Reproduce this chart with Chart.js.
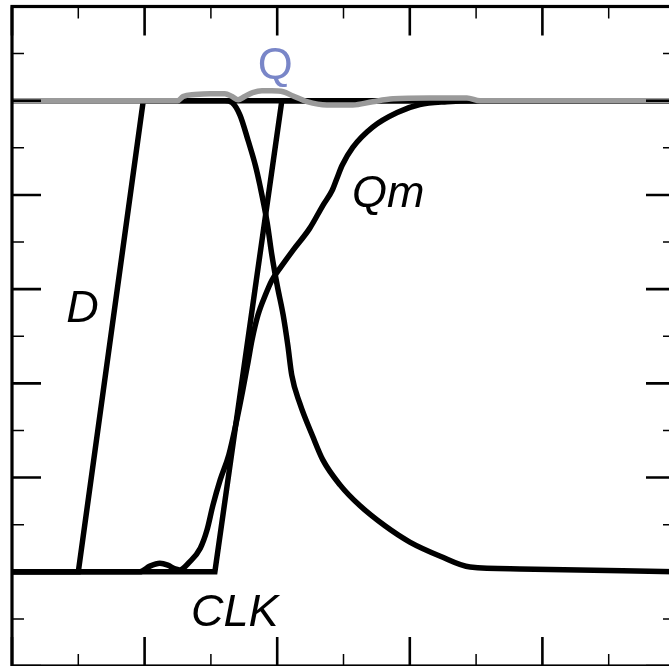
<!DOCTYPE html>
<html>
<head>
<meta charset="utf-8">
<script src="https://cdn.jsdelivr.net/npm/chart.js@4.4.1/dist/chart.umd.min.js"></script>
<style>
  html, body { margin: 0; padding: 0; background: #fff; overflow: hidden; }
  canvas { display: block; }
</style>
</head>
<body>
<canvas id="myChart" width="700" height="700"></canvas>
<script>
// time axis (arbitrary units) and node voltages (normalised)
const dTime = [0, 10, 19.8, 100];
const dVolt = [0, 0, 1, 1];

const clkTime = [0, 30.6, 40.7, 100];
const clkVolt = [0, 0, 1, 1];

const qmTime = [0, 19.3, 20.8, 22.3, 23.5, 24.6, 25.3, 26.8, 28.4, 29.4, 30.3, 31.4, 32.7, 33.9, 34.8, 35.6, 36.2, 37.1, 38.2, 39.2, 40.4, 42.4, 44.9, 46.9, 48.3, 49.0, 49.8, 51.4, 54.4, 58.1, 61.5, 65.6, 69.5, 100];
const qmVolt = [0, 0, 0.012, 0.018, 0.014, 0.006, 0.004, 0.021, 0.050, 0.088, 0.141, 0.195, 0.248, 0.322, 0.385, 0.445, 0.492, 0.545, 0.587, 0.619, 0.644, 0.683, 0.729, 0.778, 0.810, 0.835, 0.863, 0.901, 0.944, 0.975, 0.992, 0.998, 1.0, 1.0];

const qmbTime = [0, 32.1, 33.2, 34.4, 35.6, 36.7, 37.4, 38.5, 39.2, 40.0, 40.9, 41.6, 42.2, 43.4, 45.4, 46.9, 49.5, 52.5, 56.3, 60.0, 64.6, 69.1, 76.6, 100];
const qmbVolt = [1.0, 1.0, 0.996, 0.969, 0.916, 0.863, 0.820, 0.740, 0.672, 0.608, 0.545, 0.481, 0.417, 0.358, 0.286, 0.237, 0.184, 0.140, 0.097, 0.063, 0.033, 0.010, 0.006, 0.0];

const qTime = [0, 25.0, 25.8, 27.6, 29.9, 32.1, 33.2, 34.1, 35.1, 36.3, 37.7, 39.2, 40.9, 42.4, 44.5, 47.5, 51.4, 54.4, 57.5, 63.0, 68.6, 70.6, 100];
const qVolt = [1.0, 1.0, 1.009, 1.013, 1.015, 1.015, 1.009, 1.002, 1.009, 1.017, 1.021, 1.021, 1.019, 1.010, 0.998, 0.991, 0.991, 0.998, 1.004, 1.006, 1.006, 1.0, 1.0];

const xTicks = [0, 10, 20, 30, 40, 50, 60, 70, 80, 90, 100];
const yTicks = [-0.2, -0.1, 0, 0.1, 0.2, 0.3, 0.4, 0.5, 0.6, 0.7, 0.8, 0.9, 1.0, 1.1, 1.2];

const pts = (xs, ys) => xs.map((x, i) => ({ x: x, y: ys[i] }));

// text labels, anchored in data coordinates
const notes = [
  { text: "Q", x: 39.7, y: 1.047, align: "center", italic: false, color: "#7986c8" },
  { text: "Qm", x: 51.3, y: 0.775, align: "left", italic: true, color: "#000" },
  { text: "D", x: 8.2, y: 0.530, align: "left", italic: true, color: "#000" },
  { text: "CLK", x: 27.0, y: -0.115, align: "left", italic: true, color: "#000" },
];

const framePlugin = {
  id: "frame",
  afterDatasetsDraw(chart) {
    const { ctx, chartArea: a, scales } = chart;
    const xs = scales.x, ys = scales.y;
    ctx.save();
    ctx.strokeStyle = "#000";
    xTicks.forEach((v) => {
      const px = xs.getPixelForValue(v);
      const major = v % 20 === 0;
      const len = major ? 29 : 12;
      ctx.lineWidth = major ? 2.6 : 1.5;
      ctx.beginPath();
      ctx.moveTo(px, a.top); ctx.lineTo(px, a.top + len);
      ctx.moveTo(px, a.bottom); ctx.lineTo(px, a.bottom - len);
      ctx.stroke();
    });
    yTicks.forEach((v) => {
      const py = ys.getPixelForValue(v);
      const major = Math.round(v * 10) % 2 === 0;
      const len = major ? 29 : 12;
      ctx.lineWidth = major ? 2.6 : 1.5;
      ctx.beginPath();
      ctx.moveTo(a.left, py); ctx.lineTo(a.left + len, py);
      ctx.moveTo(a.right, py); ctx.lineTo(a.right - len, py);
      ctx.stroke();
    });
    ctx.lineWidth = 3.2;
    ctx.strokeRect(a.left, a.top, a.right - a.left, a.bottom - a.top);

    notes.forEach((n) => {
      ctx.font = (n.italic ? "italic " : "") + "45px 'Liberation Sans', Arial, sans-serif";
      ctx.fillStyle = n.color;
      ctx.textAlign = n.align;
      ctx.textBaseline = "alphabetic";
      ctx.fillText(n.text, xs.getPixelForValue(n.x), ys.getPixelForValue(n.y));
    });
    ctx.restore();
  },
};

const ctx = document.getElementById("myChart");

const black = (label, data, smooth, order) => ({
  label: label,
  data: data,
  borderColor: "#000",
  borderWidth: 5.5,
  pointRadius: 0,
  tension: smooth ? 0.4 : 0,
  cubicInterpolationMode: smooth ? "monotone" : "default",
  order: order,
});

new Chart(ctx, {
  type: "line",
  data: {
    datasets: [
      {
        label: "Q",
        data: pts(qTime, qVolt),
        borderColor: "#9a9a9a",
        borderWidth: 5.5,
        pointRadius: 0,
        cubicInterpolationMode: "monotone",
        tension: 0.4,
        order: 0,
      },
      black("Qm", pts(qmTime, qmVolt), true, 1),
      black("Qm_b", pts(qmbTime, qmbVolt), true, 2),
      black("CLK", pts(clkTime, clkVolt), false, 3),
      black("D", pts(dTime, dVolt), false, 4),
    ],
  },
  options: {
    responsive: false,
    animation: false,
    layout: { padding: { left: 12, top: 6.5, right: 25, bottom: 34 } },
    plugins: { legend: { display: false }, tooltip: { enabled: false } },
    scales: {
      x: { type: "linear", min: 0, max: 100, display: false },
      y: { type: "linear", min: -0.2, max: 1.2, display: false },
    },
  },
  plugins: [framePlugin],
});
</script>
</body>
</html>
